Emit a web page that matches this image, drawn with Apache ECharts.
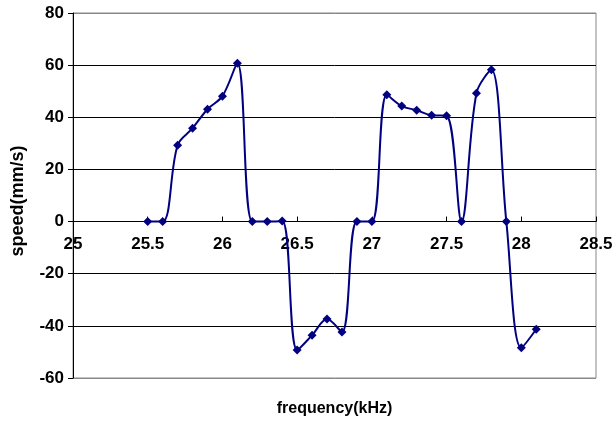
<!DOCTYPE html>
<html><head><meta charset="utf-8">
<script src="https://cdn.jsdelivr.net/npm/echarts@6/dist/echarts.min.js"></script>
<style>html,body{margin:0;padding:0;background:#fff}#c{width:616px;height:422px}</style>
</head><body><div id="c"></div>
<script>
const freq = [25.5,25.6,25.7,25.8,25.9,26.0,26.1,26.2,26.3,26.4,26.5,26.6,26.7,26.8,26.9,27.0,27.1,27.2,27.3,27.4,27.5,27.6,27.7,27.8,27.9,28.0,28.1];
const speed = [0,0,29.3,35.8,43.1,48.1,60.7,0,0,0.2,-49.3,-43.6,-37.4,-42.4,0,0,48.6,44.3,42.7,40.8,40.6,0,49.2,58.2,0,-48.4,-41.3];
const xName = 'frequency(kHz)';
const yName = 'speed(mm/s)';

const W = 616, H = 422;
const G = {left:73,right:20,top:13,bottom:44};
const yMin = -60, yMax = 80;
const plotH = H - G.top - G.bottom;
const zeroOffset = -plotH * (0 - yMin) / (yMax - yMin);

const chart = echarts.init(document.getElementById('c'));
const ff = 'Liberation Sans, Arial, sans-serif';
const tick = {fontFamily:ff, fontWeight:'bold', fontSize:17, color:'#000'};
chart.setOption({
  animation:false,
  grid:Object.assign({show:true,borderColor:'#888',borderWidth:1,backgroundColor:'transparent',containLabel:false,outerBoundsMode:'none'},G),
  xAxis:{type:'value',min:25,max:28.5,interval:0.5,offset:zeroOffset,
    name:xName,nameLocation:'middle',nameGap:179,
    nameTextStyle:{fontFamily:ff,fontWeight:'bold',fontSize:16,color:'#000'},
    axisLine:{onZero:false,lineStyle:{color:'#000',width:1}},
    axisTick:{inside:true,length:5,lineStyle:{color:'#000'}},
    axisLabel:Object.assign({margin:14},tick),
    splitLine:{show:false}},
  yAxis:{type:'value',min:yMin,max:yMax,interval:20,
    name:yName,nameLocation:'middle',nameGap:46,
    nameTextStyle:{fontFamily:ff,fontWeight:'bold',fontSize:18,color:'#000',padding:[0,11,0,0]},
    axisLine:{show:true,lineStyle:{color:'#000',width:1}},
    axisTick:{show:true,length:5,lineStyle:{color:'#000'}},
    axisLabel:Object.assign({margin:9},tick),
    splitLine:{show:true,lineStyle:{color:['#888','#000','#000','#000','#000','#000','#000','#888'],width:1}}},
  series:[{type:'line',data:freq.map((f,i)=>[f,speed[i]]),smooth:0.35,
    symbol:'diamond',symbolSize:9,
    lineStyle:{color:'#000080',width:2},
    itemStyle:{color:'#000080'}}]
});
</script></body></html>
